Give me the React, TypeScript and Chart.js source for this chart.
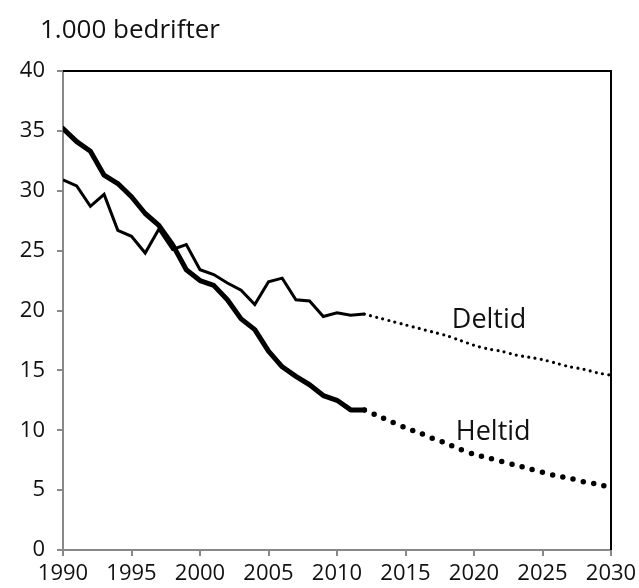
import React, { useEffect, useRef } from "react";
import { Chart, registerables } from "chart.js";

Chart.register(...registerables);

const histYears = [1990, 1991, 1992, 1993, 1994, 1995, 1996, 1997, 1998, 1999, 2000, 2001, 2002, 2003, 2004, 2005, 2006, 2007, 2008, 2009, 2010, 2011, 2012];
const heltidHist = [35.2, 34.1, 33.3, 31.3, 30.6, 29.5, 28.1, 27.1, 25.5, 23.4, 22.5, 22.1, 20.9, 19.3, 18.4, 16.6, 15.3, 14.5, 13.8, 12.9, 12.5, 11.7, 11.7];
const deltidHist = [30.9, 30.4, 28.7, 29.7, 26.7, 26.2, 24.8, 26.8, 25.1, 25.5, 23.4, 23.0, 22.3, 21.7, 20.5, 22.4, 22.7, 20.9, 20.8, 19.5, 19.8, 19.6, 19.7];

const projYears = [2012, 2013, 2014, 2015, 2016, 2017, 2018, 2019, 2020, 2021, 2022, 2023, 2024, 2025, 2026, 2027, 2028, 2029, 2030];
const heltidProj = [11.7, 11.2, 10.7, 10.2, 9.8, 9.3, 8.9, 8.4, 8.0, 7.7, 7.4, 7.1, 6.8, 6.5, 6.2, 6.0, 5.7, 5.5, 5.2];
const deltidProj = [19.7, 19.4, 19.1, 18.8, 18.5, 18.2, 17.9, 17.5, 17.1, 16.8, 16.6, 16.3, 16.1, 15.9, 15.6, 15.3, 15.1, 14.8, 14.6];

const yTitle = "1.000 bedrifter";
const seriesLabels = { deltid: "Deltid", heltid: "Heltid" };
const labelPos = { deltid: [2021.1, 19.2], heltid: [2021.4, 9.8] };

const FONT = "'Open Sans', 'DejaVu Sans', sans-serif";

const pts = (xs: number[], ys: number[]) => xs.map((x, i) => ({ x, y: ys[i] }));

export default function App() {
  const ref = useRef<HTMLCanvasElement | null>(null);
  useEffect(() => {
    if (!ref.current) return;
    const overlay = {
      id: "overlay",
      afterDraw(chart: any) {
        const { ctx, chartArea, scales } = chart;
        ctx.save();
        ctx.strokeStyle = "#000";
        ctx.lineWidth = 2;
        ctx.beginPath();
        ctx.moveTo(chartArea.left, chartArea.top);
        ctx.lineTo(chartArea.right, chartArea.top);
        ctx.lineTo(chartArea.right, chartArea.bottom);
        ctx.stroke();
        ctx.fillStyle = "#111";
        ctx.font = `26px ${FONT}`;
        ctx.textBaseline = "middle";
        ctx.textAlign = "left";
        ctx.fillText(yTitle, 40, 31);
        ctx.font = `27px ${FONT}`;
        ctx.textAlign = "center";
        const d = labelPos.deltid;
        ctx.fillText(seriesLabels.deltid, scales.x.getPixelForValue(d[0]), scales.y.getPixelForValue(d[1]));
        const h = labelPos.heltid;
        ctx.fillText(seriesLabels.heltid, scales.x.getPixelForValue(h[0]), scales.y.getPixelForValue(h[1]));
        ctx.restore();
      },
    };
    const chart = new Chart(ref.current, {
      type: "line",
      data: {
        datasets: [
          {
            label: "Heltid",
            data: pts(histYears, heltidHist),
            borderColor: "#000",
            borderWidth: 5,
            pointRadius: 0,
            tension: 0,
            borderCapStyle: "round",
            borderJoinStyle: "round",
          },
          {
            label: "Deltid",
            data: pts(histYears, deltidHist),
            borderColor: "#000",
            borderWidth: 3,
            pointRadius: 0,
            tension: 0,
            borderJoinStyle: "miter",
          },
          {
            label: "Heltid prognose",
            data: pts(projYears, heltidProj),
            borderColor: "#000",
            borderWidth: 5.5,
            pointRadius: 0,
            tension: 0.3,
            borderCapStyle: "round",
            borderDash: [0, 10.5],
          },
          {
            label: "Deltid prognose",
            data: pts(projYears, deltidProj),
            borderColor: "#000",
            borderWidth: 3.2,
            pointRadius: 0,
            tension: 0.3,
            borderCapStyle: "round",
            borderDash: [0, 6.3],
          },
        ],
      },
      options: {
        animation: false,
        responsive: false,
        maintainAspectRatio: false,
        layout: { padding: { left: 0, top: 71, right: 28, bottom: 0 } },
        plugins: { legend: { display: false }, tooltip: { enabled: false } },
        scales: {
          x: {
            type: "linear",
            min: 1990,
            max: 2030,
            afterFit: (s: any) => { s.height = 38; s.paddingLeft = 0; s.paddingRight = 0; },
            border: { color: "#888", width: 2 },
            grid: { drawOnChartArea: false, color: "#888", lineWidth: 2, tickLength: 6 },
            ticks: {
              stepSize: 5,
              padding: 5,
              color: "#111",
              font: { family: FONT, size: 22 },
              maxRotation: 0,
              autoSkip: false,
              callback: (v: any) => String(v),
            },
          },
          y: {
            min: 0,
            max: 40,
            afterFit: (s: any) => { s.width = 63; s.paddingTop = 0; s.paddingBottom = 0; },
            border: { color: "#888", width: 2 },
            grid: { drawOnChartArea: false, color: "#888", lineWidth: 2, tickLength: 6 },
            ticks: {
              stepSize: 5,
              padding: 12,
              color: "#111",
              font: { family: FONT, size: 22 },
            },
          },
        },
      },
      plugins: [overlay],
    } as any);
    return () => chart.destroy();
  }, []);
  return (
    <div style={{ position: "fixed", left: 0, top: 0, width: 639, height: 588, background: "#fff" }}>
      <canvas ref={ref} width={639} height={588} style={{ width: 639, height: 588 }} />
    </div>
  );
}
